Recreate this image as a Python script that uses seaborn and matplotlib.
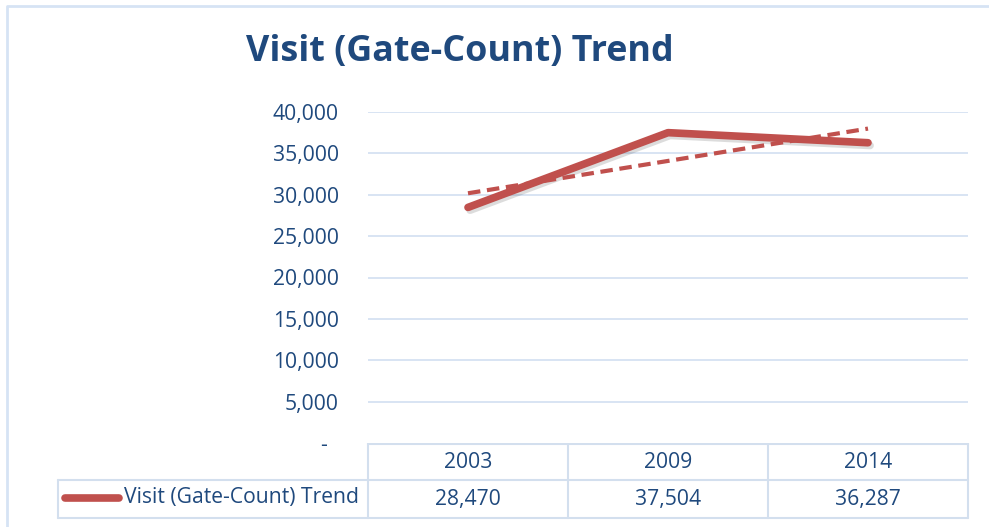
import matplotlib
matplotlib.use("Agg")
import matplotlib.pyplot as plt
import matplotlib.patheffects as pe
import numpy as np
import pandas as pd
import seaborn as sns

years = ["2003", "2009", "2014"]
visits = [28470, 37504, 36287]
series_name = "Visit (Gate-Count) Trend"
y_ticks = [0, 5000, 10000, 15000, 20000, 25000, 30000, 35000, 40000]

navy = "#1F497D"
red = "#C0504D"
grid_blue = "#D6E2F2"

sns.set_theme(style="white")
plt.rcParams["font.family"] = ["Open Sans", "DejaVu Sans"]

W, H = 989, 527
fig = plt.figure(figsize=(W / 100, H / 100), dpi=100)

def px_box(x0, y0, x1, y1):
    return [x0 / W, 1 - y1 / H, (x1 - x0) / W, (y1 - y0) / H]

df = pd.DataFrame({"pos": np.arange(len(years)), "year": years, "visits": visits})

# main plot area
ax = fig.add_axes(px_box(368, 112, 968, 443))
sns.lineplot(data=df, x="pos", y="visits", ax=ax, color=red, linewidth=5.5,
             solid_capstyle="round",
             path_effects=[pe.SimpleLineShadow(offset=(1.5, -2), alpha=0.15), pe.Normal()])
sns.regplot(data=df, x="pos", y="visits", ax=ax, scatter=False, ci=None, truncate=True,
            line_kws=dict(color=red, linewidth=3, linestyle=(0, (3, 1.6))))
ax.set_xlim(-0.5, len(years) - 0.5)
ax.set_ylim(0, 40000)
ax.set_yticks(y_ticks)
# accounting style: zero shown as a dash with trailing space
ax.set_yticklabels(["-  "] + [f"{v:,}" for v in y_ticks[1:]])
ax.set_xticks([])
ax.set_xlabel("")
ax.set_ylabel("")
ax.tick_params(axis="y", length=0, pad=21, labelsize=15.2, labelcolor=navy)
for v in y_ticks[1:]:
    ax.axhline(v, color=grid_blue, linewidth=1.3, zorder=0)
for s in ax.spines.values():
    s.set_visible(False)
ax.patch.set_alpha(0)

# data table below the plot
tab = fig.add_axes(px_box(0, 443, W, 527))
tab.set_xlim(0, W)
tab.set_ylim(527, 443)
tab.axis("off")
tcol = "#D3DFEE"
cols = [368, 568, 768, 968]
tab.plot([368, 968], [443.5, 443.5], color=tcol, lw=1.5)
tab.plot([58, 968], [480, 480], color=tcol, lw=1.5)
tab.plot([58, 968], [518, 518], color=tcol, lw=1.5)
for c in cols:
    tab.plot([c, c], [443, 518], color=tcol, lw=1.5)
tab.plot([58, 58], [480, 518], color=tcol, lw=1.5)
for i, (yr, v) in enumerate(zip(years, visits)):
    cx = (cols[i] + cols[i + 1]) / 2
    tab.text(cx, 462, yr, ha="center", va="center", fontsize=15.2, color=navy)
    tab.text(cx, 499, f"{v:,}", ha="center", va="center", fontsize=15.2, color=navy)
tab.plot([65, 119], [498, 498], color=red, lw=5.5, solid_capstyle="round")
tab.text(359, 498, series_name, ha="right", va="center", fontsize=15.2, color=navy)

# chart frame
frame = fig.add_axes([0, 0, 1, 1], zorder=-1)
frame.set_xlim(0, W)
frame.set_ylim(H, 0)
frame.axis("off")
frame.plot([7, 7, W], [H, 6, 6], color="#D6E3F4", lw=2)

fig.text(460 / W, 1 - 52 / H, series_name, ha="center", va="center",
         fontsize=25.8, fontweight="bold", color=navy)

fig.savefig("out.png", dpi=100, facecolor="white")
